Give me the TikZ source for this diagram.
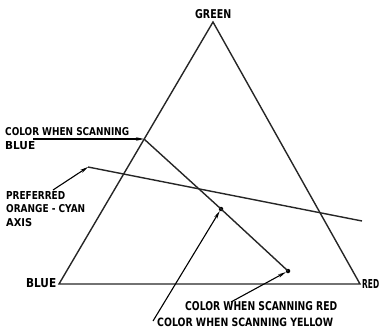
\documentclass[tikz,border=0pt]{standalone}
\usepackage{fontspec}
\setmainfont{DejaVu Sans Condensed}
\usetikzlibrary{arrows.meta}
\newcommand{\fitw}[3]{\resizebox{#1pt}{#2pt}{\bfseries #3}}
\begin{document}
\begin{tikzpicture}[x=1pt,y=-1pt,
  ln/.style={line width=1.4pt,draw=black!85},
  lbl/.style={inner sep=0pt,anchor=south west},
  arr/.style={line width=1.1pt,-{Stealth[length=8pt,width=3.5pt]}},
  dot/.style={circle,fill=black,inner sep=0pt,minimum size=4.5pt}]
\useasboundingbox (0,0) rectangle (380,334);
\coordinate (G) at (213,22);
\coordinate (B) at (59,284);
\coordinate (R) at (360,284);
\coordinate (P1) at (144,139);
\node[dot] (P2) at (221,209) {};
\node[dot] (P3) at (288,271) {};
\coordinate (A1) at (88,167);
\coordinate (A2) at (362,221);
\draw[ln,line join=miter] (B) -- (G) -- (R) -- cycle;
\draw[ln] (P1) -- (P2.center) -- (P3.center);
\draw[ln] (A1) -- (A2);
\node[lbl] (tG) at (195,19) {\fitw{36}{9}{GREEN}};
\node[lbl] (tB) at (26,288) {\fitw{30}{9}{BLUE}};
\node[lbl] (tR) at (362,289) {\fitw{17}{9}{RED}};
\node[lbl] (t1a) at (5,136) {\fitw{124}{8}{COLOR WHEN SCANNING}};
\node[lbl] (t1b) at (5,150) {\fitw{30}{8}{BLUE}};
\node[lbl] (t2a) at (6,200) {\fitw{59}{8}{PREFERRED}};
\node[lbl] (t2b) at (6,213) {\fitw{79}{8}{ORANGE - CYAN}};
\node[lbl] (t2c) at (6,227) {\fitw{26}{8}{AXIS}};
\node[lbl] (t3) at (185,311) {\fitw{152}{9}{COLOR WHEN SCANNING RED}};
\node[lbl] (t4) at (157,327) {\fitw{176}{8.5}{COLOR WHEN SCANNING YELLOW}};
\coordinate (e1) at (33,139);
\coordinate (e2) at (53,190);
\coordinate (e3) at (231,302);
\coordinate (e4) at (153,321);
\draw[arr] (e1) -- (P1);
\draw[arr] (e2) -- (A1);
\draw[arr] (e3) -- (P3);
\draw[arr] (e4) -- (P2);
\end{tikzpicture}
\end{document}
